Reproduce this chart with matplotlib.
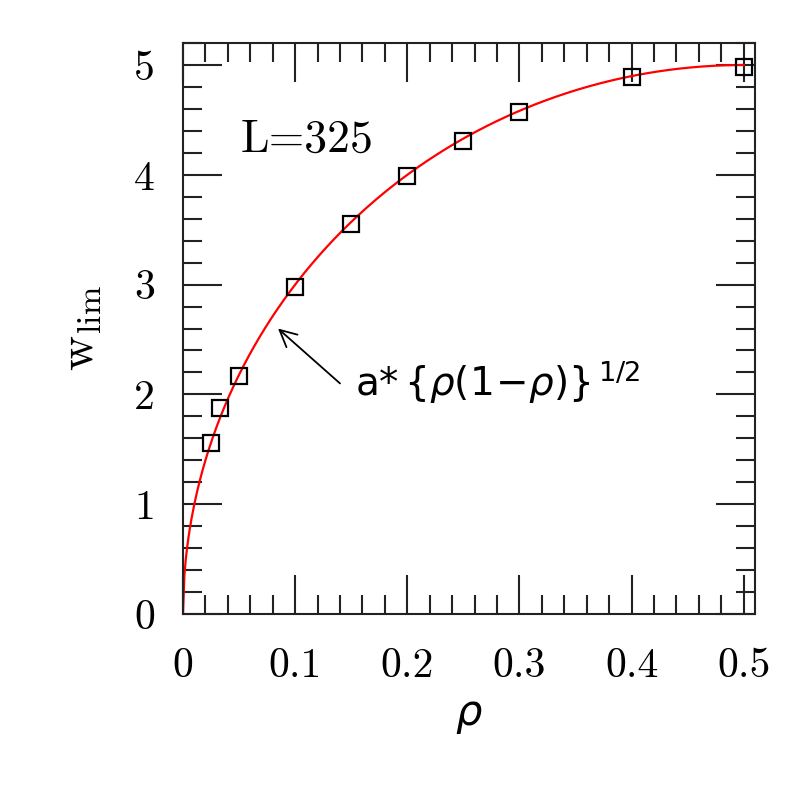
import numpy as np
import matplotlib
matplotlib.use("Agg")
import matplotlib.pyplot as plt
from matplotlib.ticker import MultipleLocator

plt.rcParams['font.family'] = 'serif'
plt.rcParams['font.serif'] = ['cmr10', 'DejaVu Serif']
plt.rcParams['mathtext.fontset'] = 'cm'
plt.rcParams['axes.formatter.use_mathtext'] = True

# measured points (L=325)
rho = [0.025, 1 / 30, 0.05, 0.1, 0.15, 0.2, 0.25, 0.3, 0.4, 0.5]
w_lim = [1.56, 1.88, 2.17, 2.98, 3.55, 3.99, 4.31, 4.57, 4.89, 4.98]
x_ticks = [0, 0.1, 0.2, 0.3, 0.4, 0.5]
x_labels = ['0', '0.1', '0.2', '0.3', '0.4', '0.5']
y_ticks = [0, 1, 2, 3, 4, 5]
y_labels = ['0', '1', '2', '3', '4', '5']

# fit a*{rho(1-rho)}^(1/2)
a_fit = 10.0
rho_fit = np.linspace(0.0, 0.5, 400)

fig = plt.figure(figsize=(7.97, 7.97), dpi=100)
ax = fig.add_axes([0.2296, 0.2296, 0.7177, 0.7164])

ax.plot(rho_fit, a_fit * np.sqrt(rho_fit * (1 - rho_fit)), color='red', lw=1.6, zorder=2)
ax.plot(rho, w_lim, ls='none', marker='s', ms=11.5, mfc='none', mec='black', mew=1.6, zorder=3)

ax.set_xlim(0, 0.51)
ax.set_ylim(0, 5.2)
ax.xaxis.set_minor_locator(MultipleLocator(0.02))
ax.yaxis.set_minor_locator(MultipleLocator(0.2))
ax.set_xticks(x_ticks)
ax.set_xticklabels(x_labels)
ax.set_yticks(y_ticks)
ax.set_yticklabels(y_labels)

ax.tick_params(which='both', direction='in', top=True, right=True, width=1.5, color='#222222')
ax.tick_params(which='major', length=28, labelsize=30)
ax.tick_params(axis='x', which='major', pad=24)
ax.tick_params(axis='y', which='major', pad=20)
ax.tick_params(which='minor', length=14)
for s in ax.spines.values():
    s.set_linewidth(1.5)
    s.set_color('#222222')

ax.set_xlabel(r'$\rho$', fontsize=30, labelpad=10, math_fontfamily='dejavusans')
ax.set_ylabel(r'$\mathrm{w_{lim}}$', fontsize=35, labelpad=22)

ax.text(0.051, 4.32, 'L=325', fontsize=33, va='center', ha='left')

ax.annotate('', xy=(0.0847, 2.60), xytext=(0.14, 2.10),
            arrowprops=dict(arrowstyle='->', color='black', lw=1.3,
                            mutation_scale=30, shrinkA=0, shrinkB=0))
ax.text(0.153, 1.99, r'a$*\,\{\rho(1\!-\!\rho)\}^{\,1/2}$', fontsize=28, va='baseline', ha='left',
        math_fontfamily='dejavusans', family='DejaVu Sans')

fig.savefig('out.png', dpi=100)
